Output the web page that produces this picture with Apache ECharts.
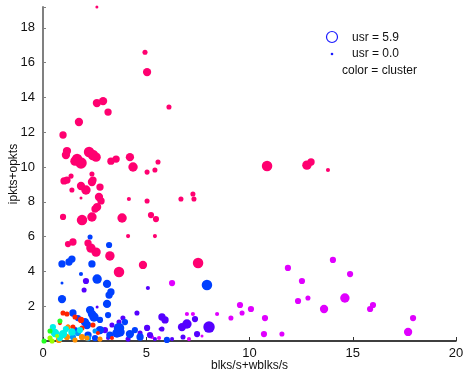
<!DOCTYPE html>
<html>
<head>
<meta charset="utf-8">
<script src="https://cdn.jsdelivr.net/npm/echarts@6/dist/echarts.min.js"></script>
<style>
html, body { margin: 0; padding: 0; background: #fff; }
#chart { width: 463px; height: 376px; }
</style>
</head>
<body>
<div id="chart"></div>
<script>
// each point: [blks/s+wblks/s, ipkts+opkts, usr]
var pinkPts = [
    [2.61, 19.2, 0], [4.94, 16.6, 1.3], [5.04, 15.46, 3.3], [2.61, 13.68, 3.3], [2.91, 13.79, 3.3],
    [3.15, 13.16, 2.7], [1.74, 12.59, 3.3], [0.97, 11.84, 2.7], [1.16, 10.92, 3.3], [1.11, 10.69, 3.3],
    [1.65, 10.46, 4.7], [1.84, 10.23, 5.3], [1.55, 10.34, 4], [2.23, 10.86, 4.7], [2.42, 10.69, 4.7],
    [2.57, 10.57, 4], [3.29, 10.34, 2.7], [3.54, 10.46, 2.7], [4.21, 10.57, 3.3], [4.36, 10.0, 4],
    [5.04, 9.71, 1.3], [5.42, 9.83, 1.3], [5.57, 10.29, 1.3], [6.1, 13.45, 1.3], [10.85, 10.06, 4.7],
    [12.78, 10.11, 4], [12.98, 10.29, 2.7], [1.02, 9.2, 2.7], [1.16, 9.25, 2.7], [1.36, 9.48, 1.3],
    [1.40, 8.68, 1.3], [1.84, 8.91, 3.3], [2.08, 8.68, 4], [2.37, 9.14, 3.3], [2.42, 9.25, 2.7],
    [2.37, 9.6, 1.3], [2.76, 8.85, 2.7], [2.71, 8.28, 3.3], [2.81, 8.05, 2.7], [1.84, 8.22, 0],
    [2.62, 7.7, 3.3], [2.52, 7.59, 2.7], [4.16, 8.16, 0.7], [5.04, 8.05, 1.3], [5.23, 7.24, 2],
    [5.47, 7.01, 2], [0.97, 7.13, 2], [1.89, 6.95, 4.7], [2.37, 7.13, 4], [3.83, 7.07, 4],
    [6.68, 8.16, 1.3], [7.26, 8.45, 1.3], [7.31, 8.16, 1.3], [4.12, 6.03, 0.7], [5.42, 6.03, 0.7],
    [1.21, 5.57, 2], [1.45, 5.69, 2.7], [2.18, 5.63, 2.7], [2.32, 5.34, 4], [2.57, 5.11, 4],
    [3.24, 4.89, 4], [3.68, 3.97, 4.7], [4.84, 4.37, 3.3], [7.51, 4.48, 4.7], [13.8, 9.83, 0.7]
];
var magentaPts = [
    [6.25, 3.33, 2], [11.86, 4.2, 2], [12.54, 3.45, 2], [12.35, 2.3, 2], [12.83, 2.47, 1.3],
    [9.54, 2.07, 2], [10.07, 1.84, 2], [9.64, 1.61, 1.3], [9.1, 1.32, 1.3], [8.43, 1.55, 0.7],
    [10.75, 1.32, 2], [10.7, 0.4, 2], [11.57, 0.4, 1.3], [6.97, 1.55, 0.7], [7.26, 1.55, 0.7],
    [7.7, 0.29, 0], [7.07, 0.11, 0.7], [14.04, 4.66, 2], [14.87, 3.85, 2], [14.62, 2.47, 4],
    [13.61, 1.84, 3.3], [15.84, 1.84, 2], [15.98, 2.07, 2], [17.92, 1.32, 2], [17.68, 0.52, 3.3],
    [5.28, 0.23, 0.7], [5.62, 0.17, 0.7]
];
var violetPts = [
    [2.08, 3.45, 2], [1.99, 2.93, 1.3], [5.08, 3.05, 0.7], [2.62, 1.95, 0], [4.55, 1.61, 1.3],
    [3.87, 1.32, 1.3], [3.68, 1.09, 1.3], [5.76, 1.38, 2.7], [5.91, 1.21, 2.7], [5.04, 0.75, 2],
    [5.76, 0.69, 1.3], [5.18, 0.34, 2], [6.73, 0.8, 3.3], [6.97, 0.98, 4], [7.36, 1.26, 2],
    [8.04, 0.8, 5.3], [7.46, 0.4, 2], [6.78, 0.23, 1.3], [6.25, 0.11, 0.7], [5.67, 0.69, 0],
    [3.0, 0.63, 2], [3.34, 0.92, 1.3], [4.12, 0.11, 1.3], [4.7, 0.46, 1.3], [3.15, 0.17, 0.7],
    [5.42, 0.11, 0.7]
];
var bluePts = [
    [2.28, 5.98, 1.3], [3.2, 5.52, 2], [0.92, 4.43, 2.7], [1.26, 4.54, 2.7], [1.40, 4.71, 2.7],
    [2.37, 4.43, 2.7], [1.84, 3.85, 0.7], [2.62, 3.56, 4], [3.10, 3.28, 3.3], [0.92, 3.33, 0],
    [3.29, 2.82, 2.7], [3.20, 2.64, 2.7], [0.92, 2.41, 3.3], [3.10, 2.13, 3.3], [1.45, 1.61, 2.7],
    [2.28, 1.78, 3.3], [2.37, 1.55, 3.3], [2.47, 1.38, 4], [2.76, 1.21, 2], [3.15, 1.49, 2],
    [2.03, 1.09, 3.3], [2.13, 0.92, 3.3], [1.69, 1.32, 2], [3.68, 0.75, 4.7], [3.73, 0.52, 4],
    [3.58, 0.46, 4], [7.94, 3.22, 4.7], [6.0, 0.06, 2], [2.76, 0.63, 3.3], [3.24, 0.34, 2.7],
    [4.21, 0.4, 3.3], [4.7, 0.23, 2.7], [1.55, 0.63, 2], [2.18, 0.34, 2.7], [2.52, 0.17, 2],
    [3.97, 1.09, 2], [4.45, 0.63, 2]
];
var azurePts = [
    [1.45, 0.23, 2], [1.69, 0.46, 2], [2.18, 0.17, 2], [1.16, 0.23, 1.3], [2.52, 0.57, 1.3]
];
var redPts = [
    [0.97, 1.61, 1.3], [1.16, 1.55, 1.3], [1.55, 1.38, 1.3], [1.84, 1.21, 2], [1.21, 0.8, 1.3],
    [1.45, 0.8, 1.3], [1.89, 0.75, 1.3], [2.42, 0.92, 1.3], [0.82, 1.03, 0.7], [2.66, 0.46, 0.7],
    [3.34, 0.17, 0.7]
];
var orangePts = [
    [0.77, 0.06, 2], [1.16, 0.23, 2], [1.21, 0.8, 1.3], [1.89, 0.23, 2], [2.13, 0.17, 1.3],
    [1.55, 0.06, 1.3], [2.76, 0.11, 1.3]
];
var cyanPts = [
    [0.58, 0.46, 3.3], [0.97, 0.4, 3.3], [0.48, 0.8, 2], [1.11, 0.69, 2], [0.82, 0.17, 2],
    [1.4, 0.52, 2.7], [1.79, 0.63, 2]
];
var limePts = [[0.34, 0.17, 1.3], [0.44, 0.0, 1.3], [0.68, 0.29, 0.7]];
var greenPts = [[0.05, 0.0, 1.3], [0.82, 1.15, 1.3], [0.34, 0.57, 1.3]];

var xTicks = [0, 5, 10, 15, 20];
var yTicks = [2, 4, 6, 8, 10, 12, 14, 16, 18];

var clusters = [
    { data: pinkPts, color: '#ff0070' },
    { data: magentaPts, color: '#e000ff' },
    { data: violetPts, color: '#5500ff' },
    { data: bluePts, color: '#0040ff' },
    { data: azurePts, color: '#0099ff' },
    { data: redPts, color: '#ff2200' },
    { data: orangePts, color: '#ff9000' },
    { data: cyanPts, color: '#00f0e8' },
    { data: limePts, color: '#99ff00' },
    { data: greenPts, color: '#22ff22' }
];

var chart = echarts.init(document.getElementById('chart'));

var series = [];
for (var i = 0; i < clusters.length; i++) {
    series.push({
        type: 'scatter',
        data: clusters[i].data,
        symbolSize: function (v) { return 3 + v[2] * 1.6; },
        itemStyle: { color: clusters[i].color, opacity: 1 }
    });
}

var font = 'Liberation Sans, Arial, sans-serif';

chart.setOption({
    animation: false,
    grid: { left: 43, right: 7, top: 7, bottom: 35, containLabel: false, outerBoundsMode: 'none' },
    xAxis: {
        type: 'value', min: 0, max: 20, interval: 5,
        name: 'blks/s+wblks/s', nameLocation: 'middle', nameGap: 19, nameMoveOverlap: false,
        nameTextStyle: { color: '#111', fontSize: 12, fontFamily: font },
        axisLine: { lineStyle: { color: '#000', width: 1.5 } },
        axisTick: { inside: true, length: 4, lineStyle: { color: '#333' } },
        axisLabel: {
            color: '#111', fontSize: 13, fontFamily: font, margin: 6,
            formatter: function (v) { return xTicks.indexOf(v) >= 0 ? v : ''; }
        },
        splitLine: { show: false }
    },
    yAxis: {
        type: 'value', min: 0, max: 19.2, interval: 2,
        name: 'ipkts+opkts', nameLocation: 'middle', nameGap: 23, nameMoveOverlap: false,
        nameTextStyle: { color: '#111', fontSize: 12, fontFamily: font },
        axisLine: { show: true, lineStyle: { color: '#808080', width: 2 } },
        axisTick: { inside: true, length: 3, lineStyle: { color: '#808080' } },
        axisLabel: {
            color: '#111', fontSize: 13, fontFamily: font, margin: 8,
            formatter: function (v) { return yTicks.indexOf(v) >= 0 ? v : ''; }
        },
        splitLine: { show: false }
    },
    graphic: [
        { type: 'circle', shape: { cx: 332, cy: 37, r: 5.5 }, style: { fill: 'none', stroke: '#1a1aff', lineWidth: 1.2 } },
        { type: 'circle', shape: { cx: 332, cy: 54, r: 1.3 }, style: { fill: '#1a1aff' } },
        { type: 'text', x: 352, y: 38, style: { text: 'usr = 5.9', fill: '#111', font: '12px ' + font, verticalAlign: 'middle' } },
        { type: 'text', x: 352, y: 54, style: { text: 'usr = 0.0', fill: '#111', font: '12px ' + font, verticalAlign: 'middle' } },
        { type: 'text', x: 342, y: 71, style: { text: 'color = cluster', fill: '#111', font: '12px ' + font, verticalAlign: 'middle' } }
    ],
    series: series
});
</script>
</body>
</html>
